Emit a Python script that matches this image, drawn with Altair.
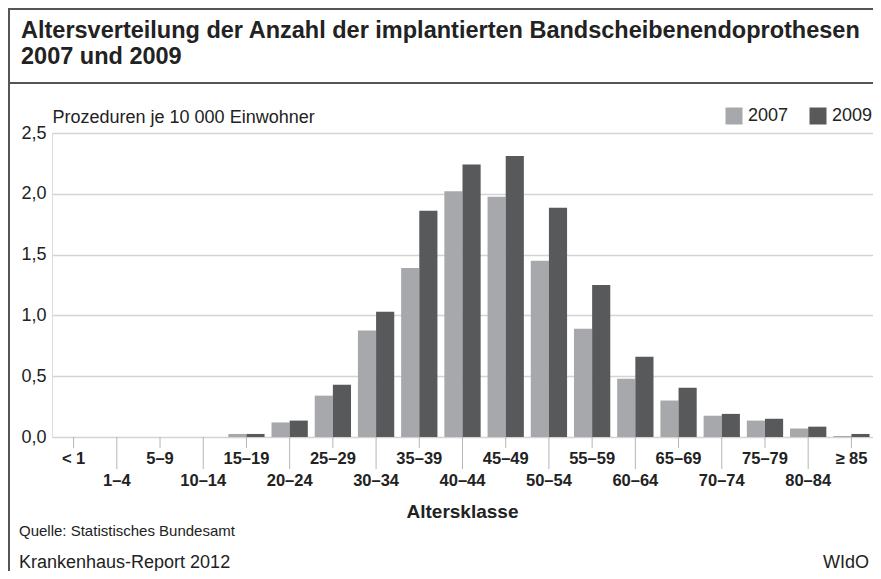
import altair as alt
import pandas as pd

# ---- data ----
categories = ["< 1", "1–4", "5–9", "10–14", "15–19", "20–24", "25–29", "30–34",
              "35–39", "40–44", "45–49", "50–54", "55–59", "60–64", "65–69",
              "70–74", "75–79", "80–84", "≥ 85"]
values_2007 = [0, 0, 0, 0, 0.025, 0.12, 0.34, 0.875, 1.39, 2.02, 1.975, 1.45,
               0.89, 0.48, 0.30, 0.175, 0.135, 0.07, 0.008]
values_2009 = [0, 0, 0, 0, 0.025, 0.135, 0.43, 1.03, 1.86, 2.24, 2.31, 1.885,
               1.25, 0.66, 0.405, 0.19, 0.15, 0.085, 0.025]
years = ["2007", "2009"]
colors = ["#a7a8ab", "#58595b"]
y_ticks = [0, 0.5, 1.0, 1.5, 2.0, 2.5]

title_lines = ["Altersverteilung der Anzahl der implantierten Bandscheibenendoprothesen",
               "2007 und 2009"]
y_title = "Prozeduren je 10 000 Einwohner"
x_title = "Altersklasse"
source_text = "Quelle: Statistisches Bundesamt"
report_text = "Krankenhaus-Report 2012"
brand_text = "WIdO"

FONT = "Liberation Sans"
W, H = 821, 304

rows = []
for c, a, b in zip(categories, values_2007, values_2009):
    rows.append({"cat": c, "year": years[0], "value": a})
    rows.append({"cat": c, "year": years[1], "value": b})
df = pd.DataFrame(rows)
lab_df = pd.DataFrame({"cat": categories, "row": [i % 2 for i in range(len(categories))]})

xscale = alt.Scale(domain=categories, paddingInner=0.16, paddingOuter=0.08)

bars = alt.Chart(df).mark_bar().encode(
    x=alt.X("cat:N", scale=xscale, sort=categories,
            axis=alt.Axis(title=None, labels=False, ticks=False, domain=False, grid=False)),
    xOffset=alt.XOffset("year:N", scale=alt.Scale(domain=years, paddingInner=0, paddingOuter=0)),
    y=alt.Y("value:Q", scale=alt.Scale(domain=[0, 2.5], nice=False),
            axis=alt.Axis(values=y_ticks,
                          labelExpr="replace(format(datum.value, '.1f'), '.', ',')",
                          title=y_title, titleAngle=0, titleX=0, titleY=-11,
                          titleAlign="left", titleBaseline="alphabetic",
                          titleFontWeight="normal", titleFontSize=18, titleFont=FONT,
                          titleColor="#222",
                          labelFontSize=18, labelFont=FONT, labelColor="#222",
                          labelPadding=6, ticks=False, domain=False,
                          grid=True, gridColor="#d4d4d4", gridWidth=1.5)),
    color=alt.Color("year:N", scale=alt.Scale(domain=years, range=colors),
                    legend=alt.Legend(title=None, orient="none", legendX=673, legendY=-26,
                                      direction="horizontal", symbolType="square",
                                      symbolSize=289, symbolStrokeWidth=0, symbolOpacity=1,
                                      labelFontSize=18, labelFont=FONT, labelColor="#222",
                                      columnPadding=20, labelOffset=5)),
)

tick_short = alt.Chart(lab_df).transform_filter("datum.row == 0").mark_rule(
    color="#b5b5b5", strokeWidth=1).encode(
    x=alt.X("cat:N", scale=xscale, sort=categories),
    y=alt.value(H), y2=alt.value(H + 11))
tick_long = alt.Chart(lab_df).transform_filter("datum.row == 1").mark_rule(
    color="#b5b5b5", strokeWidth=1).encode(
    x=alt.X("cat:N", scale=xscale, sort=categories),
    y=alt.value(H), y2=alt.value(H + 32))

lab1 = alt.Chart(lab_df).transform_filter("datum.row == 0").mark_text(
    font=FONT, fontSize=16.5, fontWeight="bold", color="#222", baseline="middle").encode(
    x=alt.X("cat:N", scale=xscale, sort=categories), y=alt.value(H + 22), text="cat:N")
lab2 = alt.Chart(lab_df).transform_filter("datum.row == 1").mark_text(
    font=FONT, fontSize=16.5, fontWeight="bold", color="#222", baseline="middle").encode(
    x=alt.X("cat:N", scale=xscale, sort=categories), y=alt.value(H + 44), text="cat:N")


def note(text, x, y, size, weight="normal", align="left"):
    return alt.Chart(pd.DataFrame({"t": [text]})).mark_text(
        font=FONT, fontSize=size, fontWeight=weight, color="#222",
        align=align, baseline="alphabetic").encode(
        x=alt.value(x), y=alt.value(y), text="t:N")


def line(x1, x2, y1, y2, w=2):
    return alt.Chart(pd.DataFrame({"a": [0]})).mark_rule(color="#555", strokeWidth=w).encode(
        x=alt.value(x1), x2=alt.value(x2), y=alt.value(y1), y2=alt.value(y2))


layers = [
    line(-43, -43, -124, 440),
    line(-44, 821, -124, -124),
    line(-44, 821, -50, -50),
    note(title_lines[0], -31, -95, 23.5, "bold"),
    note(title_lines[1], -31, -69, 23.5, "bold"),
    bars, tick_short, tick_long, lab1, lab2,
    note(x_title, W / 2, 385, 19, "bold", "center"),
    note(source_text, -33, 403, 15),
    note(report_text, -33, 435, 18),
    note(brand_text, 817, 435, 18, "normal", "right"),
]

chart = alt.layer(*layers).properties(
    width=W, height=H,
    autosize=alt.AutoSizeParams(type="none"),
    padding={"left": 44, "top": 125, "right": 0, "bottom": 134},
).configure_view(stroke="#3a3a3a", strokeWidth=1.5).configure(font=FONT, background="white")

chart.save("out.html", embed_options={"renderer": "svg", "actions": False})
